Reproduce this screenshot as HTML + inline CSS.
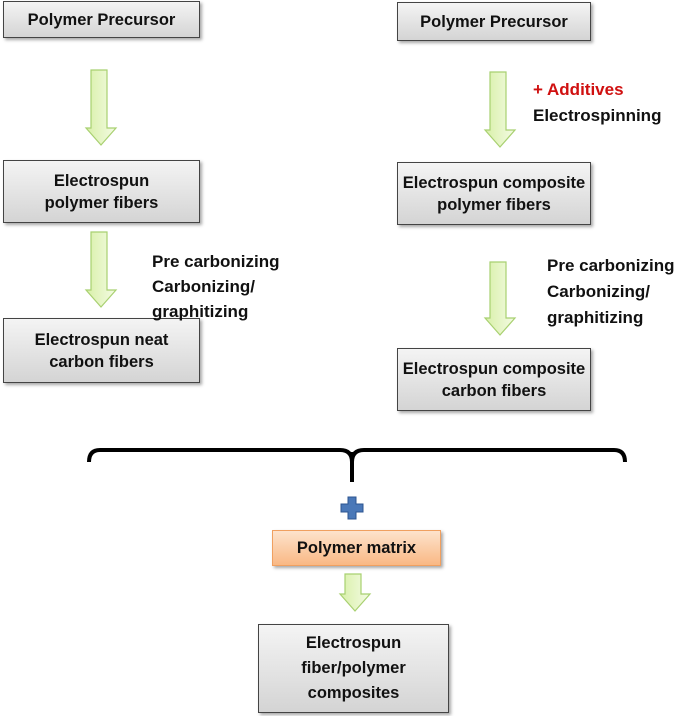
<!DOCTYPE html>
<html><head><style>
body{margin:0;width:685px;height:716px;background:#fff;position:relative;overflow:hidden;font-family:"Liberation Sans",sans-serif;font-weight:bold;}
.b{position:absolute;border:1.5px solid #444;background:linear-gradient(#f4f4f4,#d4d4d4);box-shadow:2px 2px 3px rgba(0,0,0,.35);display:flex;align-items:center;justify-content:center;text-align:center;font-size:16.5px;line-height:22px;color:#111;box-sizing:border-box}
.t{position:absolute;font-size:17px;line-height:26px;color:#111}
svg{position:absolute;left:0;top:0}
</style></head><body>
<svg width="685" height="716">
<defs><linearGradient id="g" x1="0" x2="1"><stop offset="0" stop-color="#d8f0a8"/><stop offset="1" stop-color="#f4fbe4"/></linearGradient></defs>
<g fill="url(#g)" stroke="#a8d070" stroke-width="1.2">
<path d="M91 70h16v58h9l-15 17l-15-17h5z"/>
<path d="M91 232h16v58h9l-15 17l-15-17h5z"/>
<path d="M490 72h16v58h9l-15 17l-15-17h5z"/>
<path d="M490 262h16v56h9l-15 17l-15-17h5z"/>
<path d="M345 574h16v20h9l-15 17l-15-17h5z"/>
</g>
<path d="M89 462 Q89 450 100 450 L340 450 Q352 450 352 462 Q352 450 364 450 L614 450 Q625 450 625 462" fill="none" stroke="#000" stroke-width="4"/>
<path d="M352 452V482" stroke="#000" stroke-width="4"/>
<path d="M348 497h8v7h7v8h-7v7h-8v-7h-7v-8h7z" fill="#4a78b8" stroke="#2c5590"/>
</svg>
<div class="b" style="left:3px;top:1px;width:197px;height:37px">Polymer Precursor</div>
<div class="b" style="left:397px;top:2px;width:194px;height:39px">Polymer Precursor</div>
<div class="b" style="left:3px;top:160px;width:197px;height:63px">Electrospun<br>polymer fibers</div>
<div class="b" style="left:397px;top:162px;width:194px;height:63px">Electrospun composite<br>polymer fibers</div>
<div class="b" style="left:3px;top:318px;width:197px;height:65px">Electrospun neat<br>carbon fibers</div>
<div class="b" style="left:397px;top:348px;width:194px;height:63px">Electrospun composite<br>carbon fibers</div>
<div class="b" style="left:272px;top:530px;width:169px;height:36px;border:1px solid #f0a060;background:linear-gradient(#fde3cc,#f9b884)">Polymer matrix</div>
<div class="b" style="left:258px;top:624px;width:191px;height:89px;line-height:25px">Electrospun<br>fiber/polymer<br>composites</div>
<div class="t" style="left:533px;top:77px"><span style="color:#d01010">+ Additives</span><br>Electrospinning</div>
<div class="t" style="left:152px;top:249px;line-height:25px">Pre carbonizing<br>Carbonizing/<br>graphitizing</div>
<div class="t" style="left:547px;top:253px">Pre carbonizing<br>Carbonizing/<br>graphitizing</div>
</body></html>
